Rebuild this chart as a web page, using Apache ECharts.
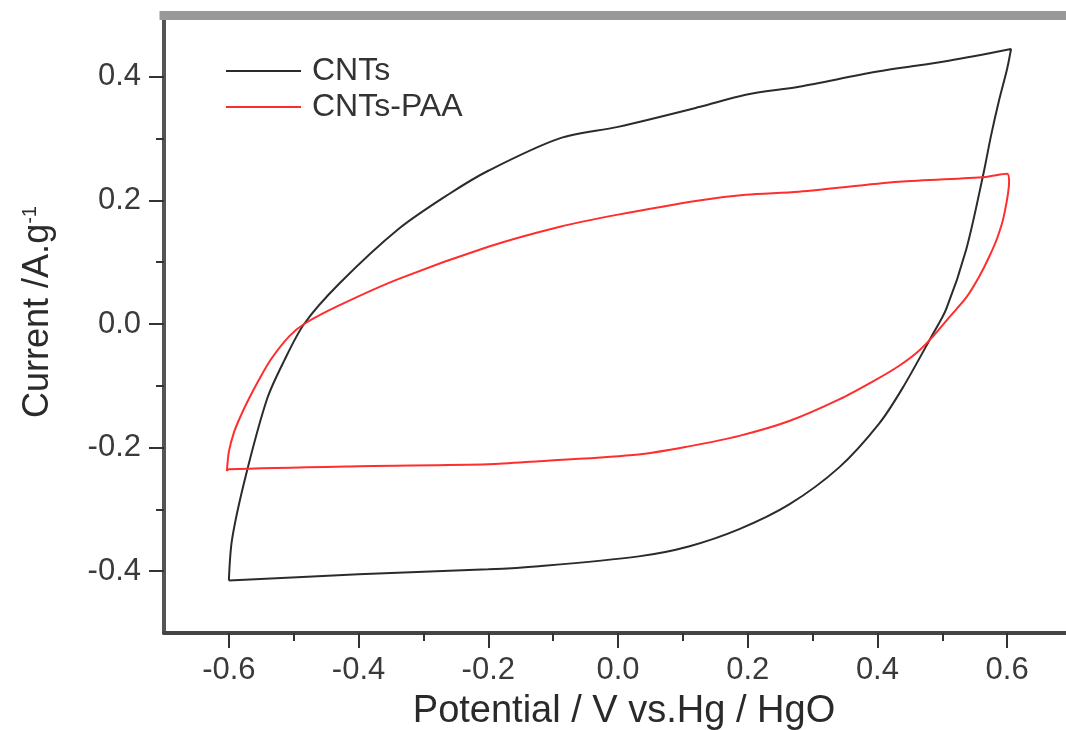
<!DOCTYPE html>
<html><head><meta charset="utf-8">
<script src="https://cdn.jsdelivr.net/npm/echarts@6/dist/echarts.min.js"></script>
<style>html,body{margin:0;padding:0;background:#fff;overflow:hidden}#c{width:1066px;height:730px}</style>
</head><body><div id="c"></div>
<script>
const seriesNames = ['CNTs', 'CNTs-PAA'];
const cntsPotential = [-0.6,-0.595,-0.574,-0.541,-0.515,-0.484,-0.43,-0.338,-0.261,-0.2,-0.091,0,0.125,0.197,0.279,0.398,0.51,0.606,0.6,0.588,0.575,0.564,0.537,0.506,0.484,0.438,0.402,0.341,0.264,0.187,0.109,0.032,-0.122,-0.2,-0.4,-0.6];
const cntsCurrent   = [-0.415,-0.348,-0.246,-0.121,-0.06,0.0,0.065,0.154,0.21,0.248,0.30,0.319,0.351,0.371,0.384,0.408,0.426,0.445,0.413,0.364,0.304,0.246,0.121,0.024,-0.019,-0.105,-0.162,-0.232,-0.292,-0.332,-0.36,-0.376,-0.392,-0.397,-0.405,-0.415];
const paaPotential = [-0.603,-0.6,-0.592,-0.581,-0.572,-0.554,-0.535,-0.507,-0.484,-0.43,-0.338,-0.2,-0.091,0,0.125,0.197,0.279,0.433,0.567,0.6,0.603,0.595,0.585,0.572,0.557,0.537,0.51,0.484,0.46,0.433,0.398,0.341,0.264,0.187,0.109,0.032,-0.122,-0.2,-0.4,-0.6,-0.603];
const paaCurrent   = [-0.238,-0.207,-0.175,-0.147,-0.127,-0.091,-0.057,-0.02,0,0.03,0.073,0.125,0.157,0.177,0.2,0.209,0.214,0.23,0.238,0.243,0.23,0.175,0.14,0.108,0.077,0.043,0.01,-0.022,-0.047,-0.068,-0.09,-0.122,-0.157,-0.181,-0.198,-0.211,-0.222,-0.227,-0.23,-0.235,-0.238];
const xMajorTicks = [-0.6,-0.4,-0.2,0,0.2,0.4,0.6];
const xMinorTicks = [-0.5,-0.3,-0.1,0.1,0.3,0.5];
const yMajorTicks = [-0.4,-0.2,0,0.2,0.4];
const yMinorTicks = [-0.3,-0.1,0.1,0.3];
const xTitle = 'Potential / V vs.Hg / HgO';
const yTitle = 'Current /A.g{sup|-1}';

const zip = (a, b) => a.map((v, i) => [v, b[i]]);
const FONT = "'Liberation Sans', Arial, sans-serif";
const gridBox = {left: 164, width: 908, top: 15, bottom: 97, containLabel: false, outerBoundsMode: 'none'};

const chart = echarts.init(document.getElementById('c'), null, {renderer: 'canvas'});
chart.setOption({
  animation: false,
  backgroundColor: '#fff',
  grid: [Object.assign({}, gridBox), Object.assign({}, gridBox)],
  legend: {
    orient: 'vertical', left: 225, top: 55, padding: 0,
    itemWidth: 75, itemHeight: 32, itemGap: 4,
    data: seriesNames,
    itemStyle: {opacity: 0},
    textStyle: {fontFamily: FONT, fontSize: 32, color: '#333', padding: [0, 0, 0, 6]}
  },
  xAxis: [
    {
      type: 'value', gridIndex: 0, min: -0.7, max: 0.7, position: 'bottom',
      axisLine: {show: true, onZero: false, lineStyle: {color: '#444', width: 4}},
      axisTick: {show: true, inside: false, length: 15, customValues: xMajorTicks, lineStyle: {color: '#333', width: 2}},
      axisLabel: {show: true, customValues: xMajorTicks, margin: 22, fontFamily: FONT, fontSize: 31, color: '#3a3a3a', formatter: v => v.toFixed(1)},
      splitLine: {show: false},
      name: xTitle, nameLocation: 'middle', nameGap: 60,
      nameTextStyle: {fontFamily: FONT, fontSize: 38, color: '#2a2a2a', padding: [0, 0, 0, 12]}
    },
    {
      type: 'value', gridIndex: 0, min: -0.7, max: 0.7, position: 'top',
      axisLine: {show: true, onZero: false, lineStyle: {color: '#999', width: 9, cap: 'square'}},
      axisTick: {show: false}, axisLabel: {show: false}, splitLine: {show: false}
    },
    {
      type: 'value', gridIndex: 1, min: -0.7, max: 0.7, position: 'bottom',
      axisLine: {show: false, onZero: false},
      axisTick: {show: true, inside: false, length: 8, customValues: xMinorTicks, lineStyle: {color: '#333', width: 2}},
      axisLabel: {show: false}, splitLine: {show: false}
    }
  ],
  yAxis: [
    {
      type: 'value', gridIndex: 0, min: -0.5, max: 0.5, position: 'left',
      axisLine: {show: true, onZero: false, lineStyle: {color: '#555', width: 4}},
      axisTick: {show: true, inside: false, length: 15, customValues: yMajorTicks, lineStyle: {color: '#333', width: 2}},
      axisLabel: {show: true, customValues: yMajorTicks, margin: 23, fontFamily: FONT, fontSize: 31, color: '#3a3a3a', formatter: v => v.toFixed(1)},
      splitLine: {show: false},
      name: yTitle, nameLocation: 'middle', nameGap: 108, nameRotate: 90,
      nameTextStyle: {fontFamily: FONT, fontSize: 36, color: '#2a2a2a', padding: [0, 0, 0, 24],
        rich: {sup: {fontFamily: FONT, fontSize: 20, color: '#2a2a2a', padding: [0, 0, 16, 0]}}}
    },
    {
      type: 'value', gridIndex: 1, min: -0.5, max: 0.5, position: 'left',
      axisLine: {show: false, onZero: false},
      axisTick: {show: true, inside: false, length: 8, customValues: yMinorTicks, lineStyle: {color: '#333', width: 2}},
      axisLabel: {show: false}, splitLine: {show: false}
    }
  ],
  series: [
    {
      name: seriesNames[0], type: 'line', xAxisIndex: 0, yAxisIndex: 0,
      data: zip(cntsPotential, cntsCurrent), symbol: 'none', smooth: 0.3,
      lineStyle: {color: '#2b2b2b', width: 2}, itemStyle: {color: '#2b2b2b'}
    },
    {
      name: seriesNames[1], type: 'line', xAxisIndex: 0, yAxisIndex: 0,
      data: zip(paaPotential, paaCurrent), symbol: 'none', smooth: 0.3,
      lineStyle: {color: '#ff2d2d', width: 2}, itemStyle: {color: '#ff2d2d'}
    }
  ]
});
</script></body></html>
